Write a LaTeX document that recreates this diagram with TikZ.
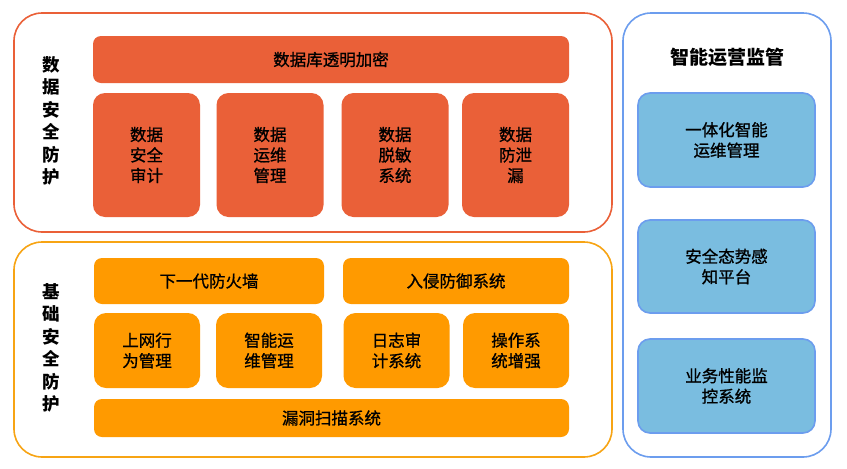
\documentclass[tikz,border=0pt]{standalone}
\usepackage{fontspec}
\setmainfont{Noto Sans CJK SC}
\newfontfamily\midfont{Noto Sans CJK SC}[FakeBold=1]
\usepackage{tikz}
\usetikzlibrary{calc}
\definecolor{dataorange}{RGB}{234,96,56}
\definecolor{baseorange}{RGB}{255,154,0}
\definecolor{baseline}{RGB}{247,164,20}
\definecolor{opsblue}{RGB}{122,189,224}
\definecolor{opsline}{RGB}{108,157,238}
\tikzstyle{group}   = [rectangle, rounded corners=28pt, line width=1.6pt, fill=white, inner sep=0pt]
\tikzstyle{block}   = [rectangle, rounded corners=12pt, inner sep=0pt, text centered, align=center, font=\midfont\fontsize{16.5}{20.5}\selectfont]
\tikzstyle{datbox}  = [block, fill=dataorange]
\tikzstyle{basebox} = [block, fill=baseorange]
\tikzstyle{opsbox}  = [block, fill=opsblue, draw=opsline, line width=1.6pt]
\tikzstyle{sidelbl} = [align=center, font=\bfseries\fontsize{17.5}{22.5}\selectfont]

\begin{document}
\begin{tikzpicture}[x=1pt, y=-1pt]
    \useasboundingbox (0,0) rectangle (847,469);

    % data security
    \node (datgrp) [group, draw=dataorange, minimum width=598pt, minimum height=219pt] at (313,122.5) {};
    \node (datlbl) [sidelbl] at (51,121) {数\\据\\安\\全\\防\\护};
    \node (dbenc)  [datbox, rounded corners=8pt, minimum width=476pt, minimum height=47pt] at (331,59.5) {数据库透明加密};
    \node (audit)  [datbox, minimum width=107pt, minimum height=124pt] at (146.5,155) {数据\\安全\\审计};
    \node (datops) [datbox, minimum width=107pt, minimum height=124pt] at (270,155) {数据\\运维\\管理};
    \node (mask)   [datbox, minimum width=107pt, minimum height=124pt] at (395,155) {数据\\脱敏\\系统};
    \node (leak)   [datbox, minimum width=107pt, minimum height=124pt] at (515.5,155) {数据\\防泄\\漏};

    % base security
    \node (basegrp) [group, draw=baseline, minimum width=598pt, minimum height=215pt] at (313,349.5) {};
    \node (baselbl) [sidelbl] at (51,348) {基\\础\\安\\全\\防\\护};
    \node (fw)      [basebox, rounded corners=8pt, minimum width=230pt, minimum height=46pt] at (209,281) {下一代防火墙};
    \node (ips)     [basebox, rounded corners=8pt, minimum width=226pt, minimum height=46pt] at (456,281) {入侵防御系统};
    \node (web)     [basebox, minimum width=106pt, minimum height=75pt] at (147,350.5) {上网行\\为管理};
    \node (smartops)[basebox, minimum width=106pt, minimum height=75pt] at (269,350.5) {智能运\\维管理};
    \node (logaud)  [basebox, minimum width=106pt, minimum height=75pt] at (396.5,350.5) {日志审\\计系统};
    \node (oshard)  [basebox, minimum width=106pt, minimum height=75pt] at (516,350.5) {操作系\\统增强};
    \node (scan)    [basebox, rounded corners=8pt, minimum width=475pt, minimum height=38pt] at (331.5,418) {漏洞扫描系统};

    % operations
    \node (opsgrp)  [group, draw=opsline, minimum width=208pt, minimum height=444pt] at (727,235) {};
    \node (opslbl)  [font=\bfseries\fontsize{19}{22}\selectfont] at (727,57) {智能运营监管};
    \node (itops)   [opsbox, minimum width=177pt, minimum height=94pt] at (726.5,140) {一体化智能\\运维管理};
    \node (sitaw)   [opsbox, minimum width=177pt, minimum height=93pt] at (726.5,266.5) {安全态势感\\知平台};
    \node (perfmon) [opsbox, minimum width=177pt, minimum height=94pt] at (726.5,386) {业务性能监\\控系统};

  \end{tikzpicture}
\end{document}
